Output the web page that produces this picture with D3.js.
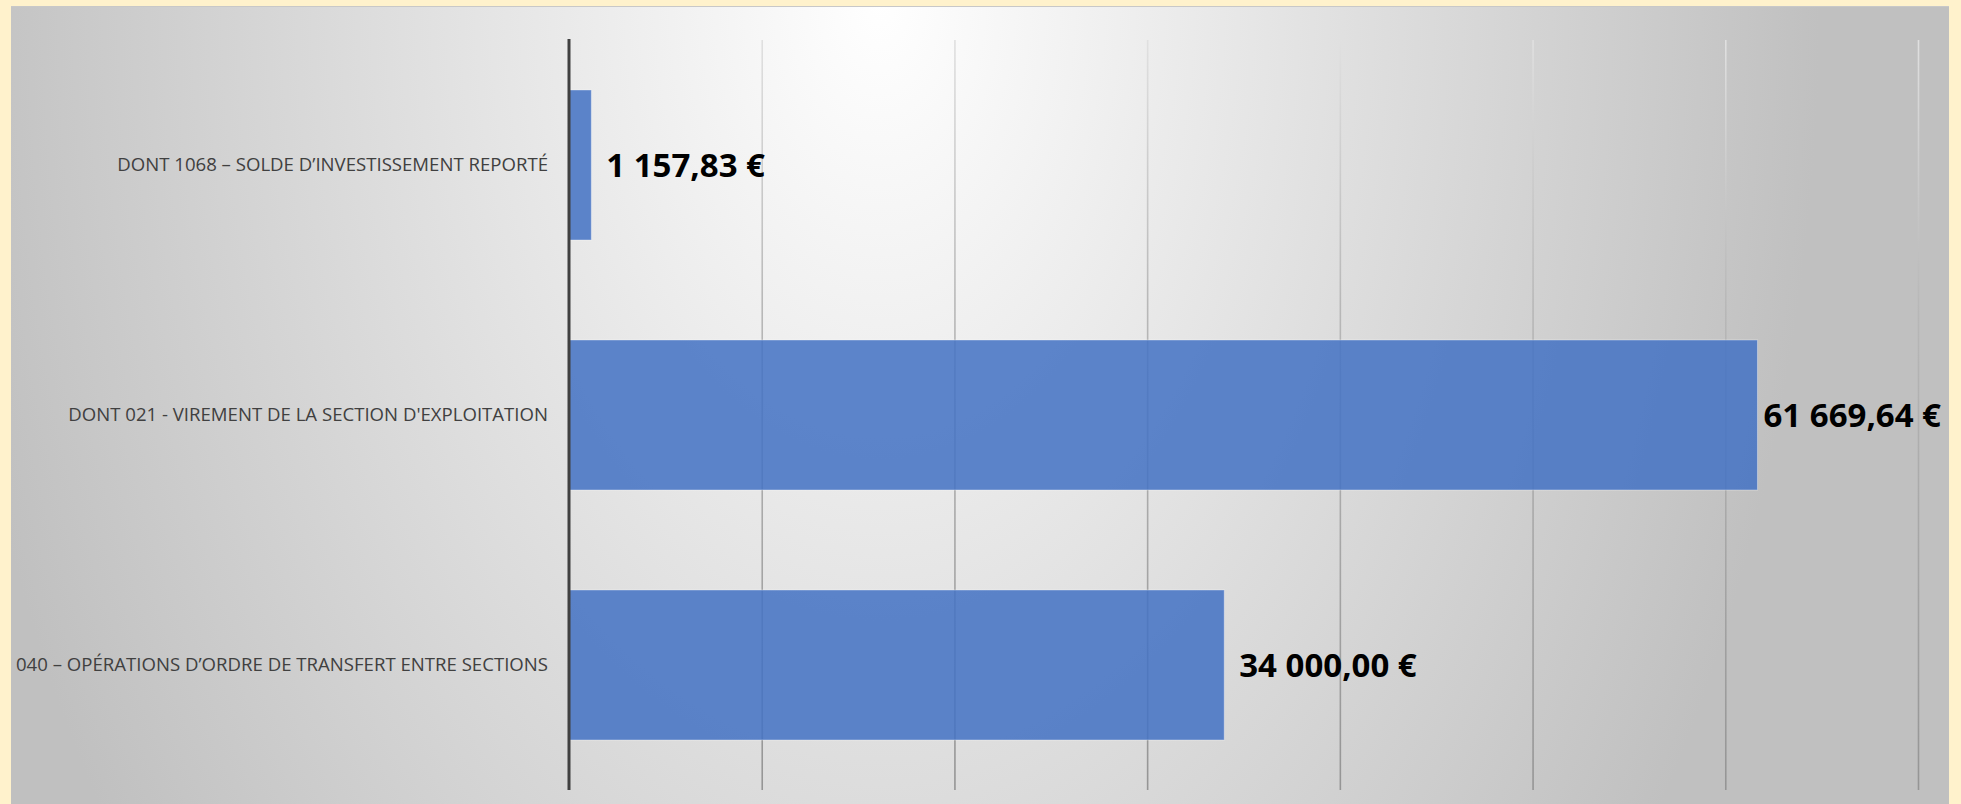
<!DOCTYPE html>
<html>
<head>
<meta charset="utf-8">
<script src="https://cdn.jsdelivr.net/npm/d3@7"></script>
<style>
  html, body { margin: 0; padding: 0; background: #fff2cc; }
  svg { display: block; }
</style>
</head>
<body>
<script>
// data
let categories = [
  "DONT 1068 \u2013 SOLDE D\u2019INVESTISSEMENT REPORT\u00c9",
  "DONT 021 - VIREMENT DE LA SECTION D'EXPLOITATION",
  "040 \u2013 OP\u00c9RATIONS D\u2019ORDRE DE TRANSFERT ENTRE SECTIONS"
];
let values = [1157.83, 61669.64, 34000.00];
let value_labels = ["1 157,83 \u20ac", "61 669,64 \u20ac", "34 000,00 \u20ac"];
let x_max = 70000;
let grid_step = 10000;

let width = 1961, height = 804;
let panel = { left: 11, top: 6, right: 1949, bottom: 804 };
let margin = { top: 40, bottom: 790, left: 569, right: 1918 };
let plot_h = margin.bottom - margin.top;

let svg = d3.select("body").append("svg")
  .attr("width", width).attr("height", height);

let defs = svg.append("defs");
let bg = defs.append("radialGradient")
  .attr("id", "bg")
  .attr("gradientUnits", "userSpaceOnUse")
  .attr("cx", 0).attr("cy", 0).attr("r", 1)
  .attr("gradientTransform", "translate(880,0) scale(940,1450)");
bg.append("stop").attr("offset", 0).attr("stop-color", "#ffffff");
bg.append("stop").attr("offset", 1).attr("stop-color", "#c0c0c0");

// gridline fade, in the grid group's own coordinates (0 at the bottom)
let gl = defs.append("linearGradient")
  .attr("id", "gridfade")
  .attr("gradientUnits", "userSpaceOnUse")
  .attr("x1", 0).attr("y1", -plot_h).attr("x2", 0).attr("y2", 0);
gl.append("stop").attr("offset", 0).attr("stop-color", "#e0e0e0");
gl.append("stop").attr("offset", 0.35).attr("stop-color", "#b8b8b8");
gl.append("stop").attr("offset", 1).attr("stop-color", "#959595");

// panel
svg.append("rect")
  .attr("x", panel.left).attr("y", panel.top)
  .attr("width", panel.right - panel.left).attr("height", panel.bottom - panel.top)
  .attr("fill", "url(#bg)");
svg.append("line")
  .attr("x1", panel.left).attr("x2", panel.right)
  .attr("y1", panel.top + 0.5).attr("y2", panel.top + 0.5)
  .attr("stroke", "#c8c8c8").attr("stroke-width", 1);

let x = d3.scaleLinear().domain([0, x_max]).range([margin.left, margin.right]);
let y = d3.scaleBand().domain(categories)
  .range([margin.top, margin.bottom])
  .paddingInner(0.4).paddingOuter(0.2);

// vertical gridlines
let grid = svg.append("g")
  .attr("transform", `translate(0,${margin.bottom})`)
  .call(d3.axisBottom(x)
    .tickValues(d3.range(grid_step, x_max + 1, grid_step))
    .tickSize(-plot_h)
    .tickFormat(""));
grid.select(".domain").remove();
grid.selectAll(".tick line")
  .attr("stroke", "url(#gridfade)")
  .attr("stroke-width", 1.6);

// bars
svg.append("g").selectAll("rect")
  .data(values)
  .join("rect")
    .attr("x", x(0))
    .attr("y", (d, i) => y(categories[i]))
    .attr("width", d => x(d) - x(0))
    .attr("height", y.bandwidth())
    .attr("fill", "#4472c4")
    .attr("fill-opacity", 0.86)
    .attr("stroke", "#ffffff")
    .attr("stroke-opacity", 0.35)
    .attr("stroke-width", 1);

// category axis
let yaxis = svg.append("g")
  .attr("transform", `translate(${margin.left},0)`)
  .call(d3.axisLeft(y).tickSize(0).tickPadding(21));
yaxis.select(".domain")
  .attr("stroke", "#404040").attr("stroke-width", 3)
  .attr("d", `M0,${margin.top - 1}V${margin.bottom}`);
yaxis.selectAll(".tick text")
  .attr("font-family", "'Open Sans', sans-serif")
  .attr("font-size", 18.6)
  .attr("fill", "#404040");

// value labels
let vtext = svg.append("g").selectAll("text")
  .data(values)
  .join("text")
    .attr("font-family", "'Open Sans', sans-serif")
    .attr("font-weight", "bold")
    .attr("font-size", 33)
    .attr("fill", "#000000")
    .attr("dy", "0.35em")
    .attr("y", (d, i) => y(categories[i]) + y.bandwidth() / 2)
    .text((d, i) => value_labels[i]);
vtext.attr("x", function (d) {
  let w = this.getComputedTextLength();
  return Math.min(x(d) + 15, panel.right - 8 - w);
});
</script>
</body>
</html>
